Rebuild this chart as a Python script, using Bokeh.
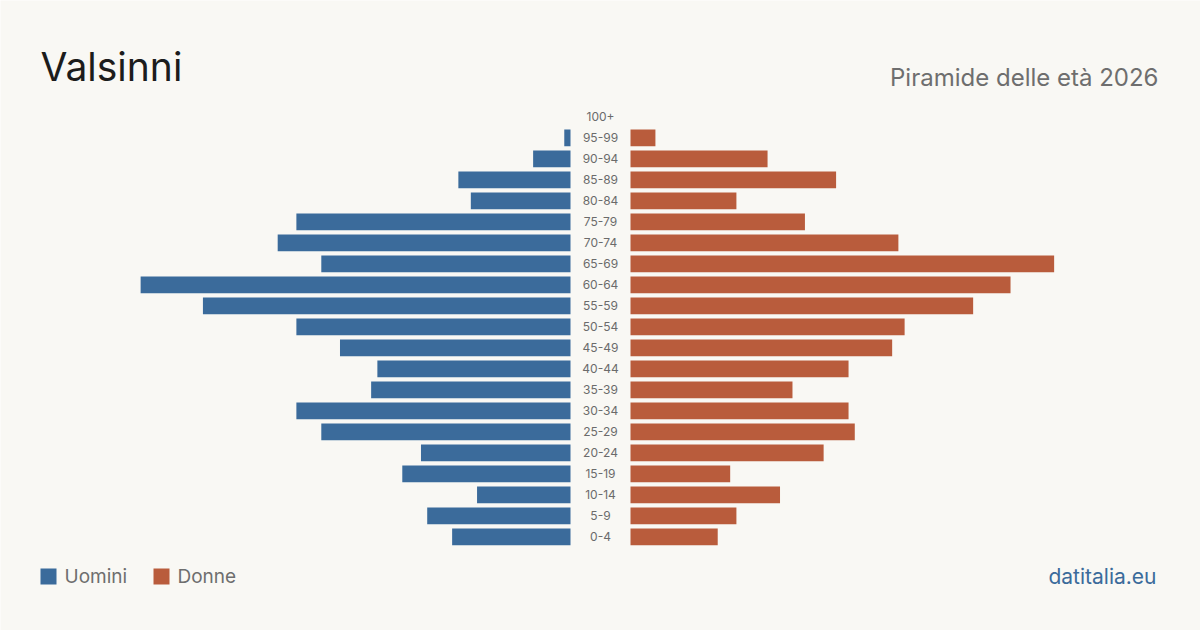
from bokeh.plotting import figure
from bokeh.models import ColumnDataSource, Label, Range1d, BoxAnnotation
from bokeh.core.properties import value
from bokeh.embed import file_html
from bokeh.resources import INLINE

# Age classes, youngest first
age_groups = ["0-4", "5-9", "10-14", "15-19", "20-24", "25-29", "30-34", "35-39",
              "40-44", "45-49", "50-54", "55-59", "60-64", "65-69", "70-74",
              "75-79", "80-84", "85-89", "90-94", "95-99", "100+"]
men = [19, 23, 15, 27, 24, 40, 44, 32, 31, 37, 44, 59, 69, 40, 47, 44, 16, 18, 6, 1, 0]
women = [14, 17, 24, 16, 31, 36, 35, 26, 35, 42, 44, 55, 61, 68, 43, 28, 17, 33, 22, 4, 0]

BG = "#f9f8f4"
BLUE = "#3b6b9b"
ORANGE = "#b95c3c"
FONT = "Inter"

W, H = 1200, 630
PX_PER_UNIT = 6.23          # horizontal pixels per person
GAP = 30 / PX_PER_UNIT      # half-width of the central label column
ROW_PX = 21.0               # vertical pixels per age class
ROW0_PX = 536.3             # pixel row of the youngest class (from top)

half = (W / 2) / PX_PER_UNIT
y_top = ROW0_PX / ROW_PX
y_bot = -(H - ROW0_PX) / ROW_PX

idx = list(range(len(age_groups)))
src = ColumnDataSource(dict(
    y=idx,
    label=age_groups,
    m_left=[-GAP - v for v in men],
    m_right=[-GAP] * len(men),
    w_left=[GAP] * len(women),
    w_right=[GAP + v for v in women],
    zero=[0] * len(idx),
))

p = figure(width=W, height=H, output_backend="svg", toolbar_location=None,
           x_range=Range1d(-half, half), y_range=Range1d(y_bot, y_top),
           min_border=0, background_fill_color=BG, border_fill_color=BG)
p.axis.visible = False
p.grid.visible = False
p.outline_line_color = None

bar_h = 16.7 / ROW_PX
p.hbar(y="y", left="m_left", right="m_right", height=bar_h, source=src,
       fill_color=BLUE, line_color=None)
p.hbar(y="y", left="w_left", right="w_right", height=bar_h, source=src,
       fill_color=ORANGE, line_color=None)

p.text(x="zero", y="y", text="label", source=src, text_align="center",
       text_baseline="middle", text_font=value(FONT), text_font_size="12px",
       text_color="#6b6b6b")


def label(x, y_from_top, text, size, color, align="left"):
    p.add_layout(Label(x=x, y=H - y_from_top, x_units="screen", y_units="screen",
                       text=text, text_font=FONT, text_font_size=f"{size}px",
                       text_color=color, text_align=align,
                       text_baseline="middle"))


# Header
label(40, 66, "Valsinni", 39, "#1c1c1c")
label(1158, 77, "Piramide delle età 2026", 24, "#6e6e6e", "right")

# Legend
for sx, tx, name, col in [(40, 64, "Uomini", BLUE), (153, 177, "Donne", ORANGE)]:
    p.add_layout(BoxAnnotation(left=sx, right=sx + 16, top=H - 568, bottom=H - 584,
                               left_units="screen", right_units="screen",
                               top_units="screen", bottom_units="screen",
                               fill_color=col, fill_alpha=1, line_color=None))
    label(tx, 576, name, 19, "#6e6e6e")

label(1156, 576, "datitalia.eu", 21, BLUE, "right")

open("out.html", "w").write(file_html(p, INLINE))
